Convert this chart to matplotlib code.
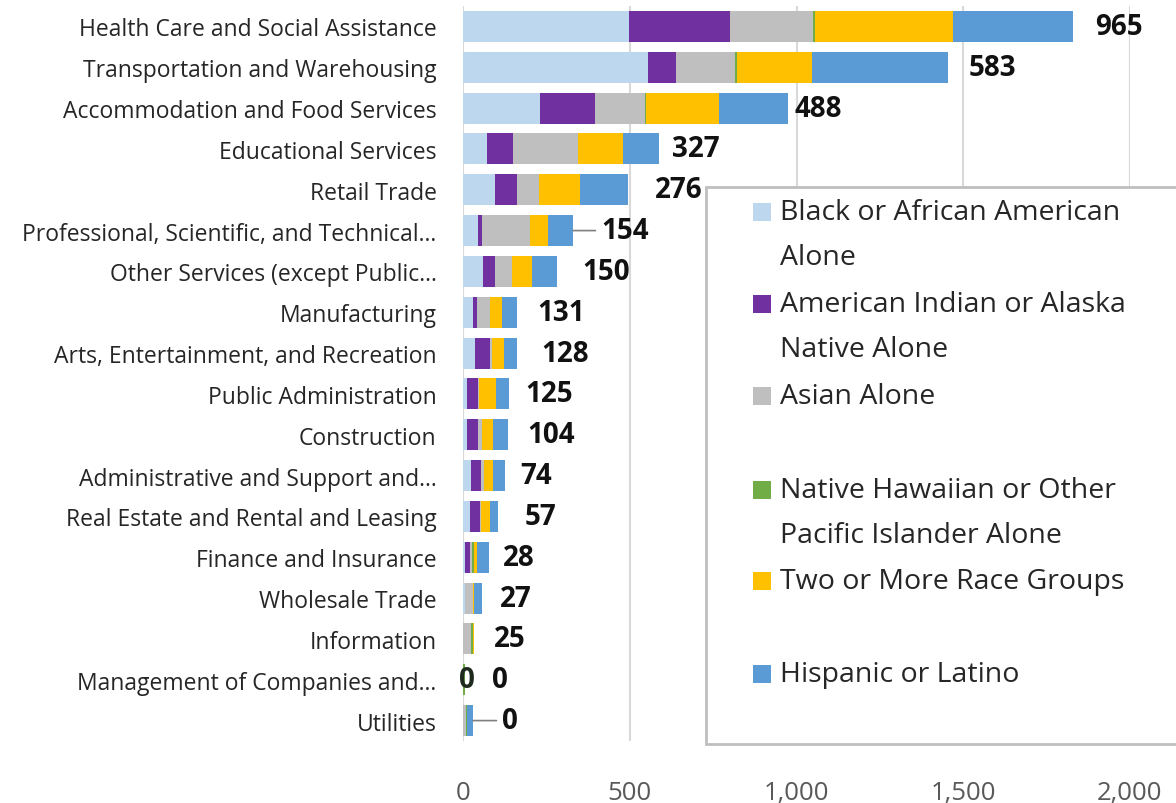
import matplotlib
matplotlib.use("Agg")
import matplotlib.pyplot as plt
from matplotlib.patches import Rectangle
import numpy as np

plt.rcParams["font.family"] = ["Open Sans", "DejaVu Sans"]

# categories, top to bottom
industries = [
    "Health Care and Social Assistance",
    "Transportation and Warehousing",
    "Accommodation and Food Services",
    "Educational Services",
    "Retail Trade",
    "Professional, Scientific, and Technical...",
    "Other Services (except Public...",
    "Manufacturing",
    "Arts, Entertainment, and Recreation",
    "Public Administration",
    "Construction",
    "Administrative and Support and...",
    "Real Estate and Rental and Leasing",
    "Finance and Insurance",
    "Wholesale Trade",
    "Information",
    "Management of Companies and...",
    "Utilities",
]

# series values
black = [498, 555, 231, 72, 96, 45, 60, 30, 36, 12, 12, 24, 21, 6, 6, 0, 0, 0]
aian = [303, 84, 165, 78, 66, 12, 36, 12, 45, 33, 33, 30, 30, 15, 0, 0, 0, 0]
asian = [249, 177, 150, 195, 66, 144, 51, 39, 6, 3, 12, 9, 3, 6, 24, 24, 0, 9]
nhpi = [6, 6, 3, 0, 0, 0, 0, 0, 0, 0, 0, 0, 0, 6, 0, 6, 6, 3]
two = [414, 225, 219, 135, 123, 54, 60, 36, 36, 51, 33, 27, 27, 9, 3, 3, 0, 0]
hisp = [360, 408, 207, 108, 144, 75, 75, 45, 39, 39, 45, 36, 24, 36, 24, 0, 0, 18]
totals = [965, 583, 488, 327, 276, 154, 150, 131, 128, 125, 104, 74, 57, 28, 27, 25, 0, 0]

series_names = [
    "Black or African American\nAlone",
    "American Indian or Alaska\nNative Alone",
    "Asian Alone",
    "Native Hawaiian or Other\nPacific Islander Alone",
    "Two or More Race Groups",
    "Hispanic or Latino",
]
series = [black, aian, asian, nhpi, two, hisp]
colors = ["#bdd7ee", "#7030a0", "#bfbfbf", "#70ad47", "#ffc000", "#5b9bd5"]

# gap (pixels) between bar end and total label
label_gap = [22, 20, 6, 13, 27, 28, 25, 20, 24, 16, 19, 15, 27, 14, 18, 20, 27, 29]

fig = plt.figure(figsize=(11.76, 8.04), dpi=100)
ax = fig.add_axes([463 / 1176, 1 - 742 / 804, 667 / 1176, 735 / 804])

y = np.arange(len(industries))
left = np.zeros(len(industries))
for vals, c in zip(series, colors):
    ax.barh(y, vals, left=left, height=0.76, color=c, zorder=2)
    left += np.array(vals)

for i, t in enumerate(totals):
    arrow = None
    if industries[i].startswith("Professional") or industries[i] == "Utilities":
        arrow = dict(arrowstyle="-", color="#7f7f7f", lw=1.2, shrinkA=2, shrinkB=0)
    ax.annotate(str(t), xy=(left[i], y[i]), xytext=(label_gap[i], 0),
                textcoords="offset pixels", ha="left", va="center",
                fontsize=20, fontweight="bold", color="#111111",
                arrowprops=arrow, zorder=3)
# stray zero label sitting on the Management bar
ax.text(12, y[16], "0", ha="center", va="center", fontsize=20,
        fontweight="bold", color="#1f2a1f", zorder=3)

ax.set_xlim(0, 2000)
ax.set_ylim(len(industries) - 0.5, -0.5)
ax.set_xticks([0, 500, 1000, 1500, 2000])
ax.set_xticklabels(["0", "500", "1,000", "1,500", "2,000"])
ax.set_yticks(y)
ax.set_yticklabels(industries)
ax.tick_params(axis="x", length=0, pad=28, labelsize=18.5, labelcolor="#595959")
ax.tick_params(axis="y", length=0, pad=19, labelsize=16.5, labelcolor="#262626")
ax.grid(axis="x", color="#d9d9d9", lw=1.5, zorder=0)
for s in ax.spines.values():
    s.set_visible(False)

# legend box drawn by hand so the markers sit on the first text line
fig.add_artist(Rectangle((706 / 1176, 1 - 745 / 804), 0.5, (745 - 188) / 804,
                         transform=fig.transFigure, facecolor="white",
                         edgecolor="#bfbfbf", lw=2, zorder=5))
first_line = [213, 305, 397, 491, 582, 675]
for name, c, ty in zip(series_names, colors, first_line):
    fig.add_artist(Rectangle((753 / 1176, 1 - (ty + 9) / 804), 18 / 1176, 18 / 804,
                             transform=fig.transFigure, facecolor=c,
                             edgecolor="none", zorder=6))
    for k, line in enumerate(name.split("\n")):
        fig.text(780 / 1176, 1 - (ty + 45 * k) / 804, line, ha="left",
                 va="center", fontsize=20.5, color="#262626", zorder=6)

fig.savefig("out.png", dpi=100)
